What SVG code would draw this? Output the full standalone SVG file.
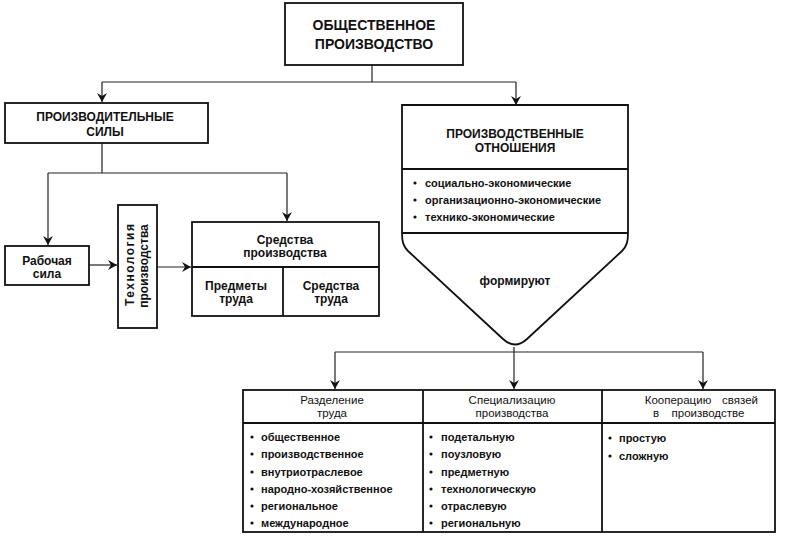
<svg xmlns="http://www.w3.org/2000/svg" width="786" height="544" viewBox="0 0 786 544">
<defs>
<style>
.box{fill:#fff;stroke:#111;stroke-width:1.8}
.ln{fill:none;stroke:#111;stroke-width:1.8}
.con{fill:none;stroke:#222;stroke-width:1.2}
text{font-family:"Liberation Sans",Arial,sans-serif;fill:#111}
.t14{font-size:14px;font-weight:bold;text-anchor:middle}
.tb{font-size:12px;font-weight:bold;text-anchor:middle}
.it{font-size:11px;font-weight:bold}
.hd{font-size:11.5px;text-anchor:middle}
.dot{fill:#111}
</style>
<marker id="arr" markerUnits="userSpaceOnUse" markerWidth="9" markerHeight="10" refX="9" refY="5" orient="auto" viewBox="0 0 9 10">
<path d="M0,0 L9,5 L0,10 L3,5 z" fill="#111"/>
</marker>
</defs>
<rect width="786" height="544" fill="#fff"/>

<g id="connectors">
<path class="con" d="M372,65 V82 M102,82 H516"/>
<path class="con" d="M102,82 V102" marker-end="url(#arr)"/>
<path class="con" d="M516,82 V105" marker-end="url(#arr)"/>
<path class="con" d="M102,143 V173 M48,173 H287"/>
<path class="con" d="M48,173 V245" marker-end="url(#arr)"/>
<path class="con" d="M287,173 V221" marker-end="url(#arr)"/>
<path class="con" d="M89,265 H117" marker-end="url(#arr)"/>
<path class="con" d="M157,267 H191" marker-end="url(#arr)"/>
<path class="con" d="M514,347 V352 M335,352 H703"/>
<path class="con" d="M335,352 V389" marker-end="url(#arr)"/>
<path class="con" d="M514,352 V389" marker-end="url(#arr)"/>
<path class="con" d="M703,352 V389" marker-end="url(#arr)"/>
</g>

<g id="obshchestvennoe">
<rect class="box" x="285" y="3" width="178" height="62"/>
<text class="t14" x="374" y="30">ОБЩЕСТВЕННОЕ</text>
<text class="t14" x="374" y="49">ПРОИЗВОДСТВО</text>
</g>

<g id="proizvoditelnye">
<rect class="box" x="5" y="103" width="203" height="40"/>
<text class="tb" x="105" y="121">ПРОИЗВОДИТЕЛЬНЫЕ</text>
<text class="tb" x="105" y="136">СИЛЫ</text>
</g>

<g id="rabochaya">
<rect class="box" x="5" y="246" width="84" height="39"/>
<text class="tb" x="47" y="265">Рабочая</text>
<text class="tb" x="47" y="278">сила</text>
</g>

<g id="tekhnologiya">
<rect class="box" x="118" y="205" width="39" height="123"/>
<text class="tb" transform="translate(134,265) rotate(-90)" textLength="82" lengthAdjust="spacing">Технология</text>
<text class="tb" transform="translate(148,266) rotate(-90)">производства</text>
</g>

<g id="sredstva">
<rect class="box" x="192" y="222" width="187" height="94"/>
<path class="ln" d="M192,267 H379 M283,267 V316"/>
<text class="tb" x="285" y="244">Средства</text>
<text class="tb" x="285" y="257">производства</text>
<text class="tb" x="236" y="290">Предметы</text>
<text class="tb" x="236" y="303">труда</text>
<text class="tb" x="331" y="290">Средства</text>
<text class="tb" x="331" y="303">труда</text>
</g>

<g id="otnosheniya">
<path class="box" d="M402,105 H628 V233 C628,241 627,246 622,251 L527,339 Q515,350 503,339 L408,251 C403,246 402,241 402,233 Z"/>
<path class="ln" d="M402,169 H628 M402,233 H628"/>
<text class="tb" x="515" y="138">ПРОИЗВОДСТВЕННЫЕ</text>
<text class="tb" x="515" y="152">ОТНОШЕНИЯ</text>
<circle class="dot" cx="415" cy="183" r="1.6"/>
<circle class="dot" cx="415" cy="200" r="1.6"/>
<circle class="dot" cx="415" cy="217" r="1.6"/>
<text class="it" x="425" y="187">социально-экономические</text>
<text class="it" x="425" y="204">организационно-экономические</text>
<text class="it" x="425" y="221">технико-экономические</text>
<text class="tb" x="515" y="285">формируют</text>
</g>

<g id="table">
<rect class="box" x="243" y="390" width="532" height="142"/>
<path class="ln" d="M243,423 H775 M423,390 V532 M602,390 V532"/>
</g>

<g id="razdelenie">
<text class="hd" x="332" y="404">Разделение</text>
<text class="hd" x="332" y="417">труда</text>
<circle class="dot" cx="252" cy="437" r="1.6"/>
<circle class="dot" cx="252" cy="454" r="1.6"/>
<circle class="dot" cx="252" cy="472" r="1.6"/>
<circle class="dot" cx="252" cy="489" r="1.6"/>
<circle class="dot" cx="252" cy="506" r="1.6"/>
<circle class="dot" cx="252" cy="523" r="1.6"/>
<text class="it" x="261" y="441">общественное</text>
<text class="it" x="261" y="458">производственное</text>
<text class="it" x="261" y="476">внутриотраслевое</text>
<text class="it" x="261" y="493">народно-хозяйственное</text>
<text class="it" x="261" y="510">региональное</text>
<text class="it" x="261" y="527">международное</text>
</g>

<g id="specializaciya">
<text class="hd" x="512" y="404">Специализацию</text>
<text class="hd" x="512" y="417">производства</text>
<circle class="dot" cx="431" cy="437" r="1.6"/>
<circle class="dot" cx="431" cy="454" r="1.6"/>
<circle class="dot" cx="431" cy="472" r="1.6"/>
<circle class="dot" cx="431" cy="489" r="1.6"/>
<circle class="dot" cx="431" cy="506" r="1.6"/>
<circle class="dot" cx="431" cy="523" r="1.6"/>
<text class="it" x="441" y="441">подетальную</text>
<text class="it" x="441" y="458">поузловую</text>
<text class="it" x="441" y="476">предметную</text>
<text class="it" x="441" y="493">технологическую</text>
<text class="it" x="441" y="510">отраслевую</text>
<text class="it" x="441" y="527">региональную</text>
</g>

<g id="kooperaciya">
<text class="hd" x="678" y="404">Кооперацию</text>
<text class="hd" x="740" y="404">связей</text>
<text class="hd" x="656" y="417">в</text>
<text class="hd" x="708" y="417">производстве</text>
<circle class="dot" cx="610" cy="438" r="1.6"/>
<circle class="dot" cx="610" cy="456" r="1.6"/>
<text class="it" x="619" y="442">простую</text>
<text class="it" x="619" y="460">сложную</text>
</g>
</svg>
